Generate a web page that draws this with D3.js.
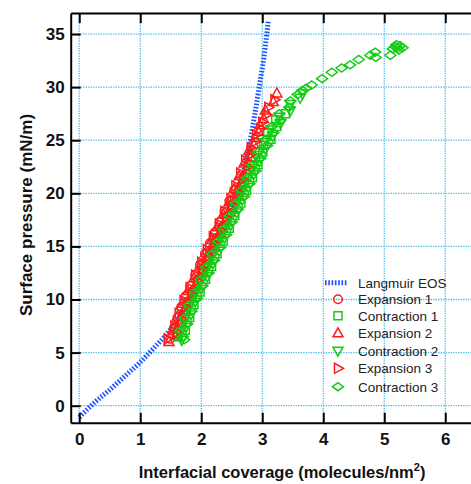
<!DOCTYPE html>
<html><head><meta charset="utf-8">
<script src="https://cdn.jsdelivr.net/npm/d3@7"></script>
<style>body{margin:0;background:#fff}svg{display:block}</style>
</head><body>
<svg id="c" width="471" height="484"></svg>
<script>
// ---- data ----
const xTicks = [0, 1, 2, 3, 4, 5, 6];
const yTicks = [0, 5, 10, 15, 20, 25, 30, 35];
const seriesNames = ["Expansion 1", "Contraction 1", "Expansion 2", "Contraction 2", "Expansion 3", "Contraction 3"];
const langmuirEOS = [[0,-1.1],[0.25,0.3],[0.5,1.5],[0.75,2.8],[1.0,4.1],[1.25,5.6],[1.5,7.2],[1.75,9.4],[2.0,12.0],[2.25,15.0],[2.5,18.5],[2.65,21.0],[2.8,24.9],[2.95,30.0],[3.05,33.8],[3.1,36.3]];
const expansion1 = [[1.49,6.3],[1.60,6.8],[1.55,7.3],[1.66,7.8],[1.61,8.3],[1.72,8.8],[1.67,9.3],[1.78,9.8],[1.74,10.3],[1.86,10.8],[1.82,11.3],[1.94,11.8],[1.90,12.3],[2.02,12.8],[1.98,13.3],[2.10,13.8],[2.06,14.3],[2.18,14.8],[2.14,15.3],[2.26,15.8],[2.22,16.3],[2.34,16.8],[2.30,17.3],[2.42,17.8],[2.38,18.3],[2.50,18.8],[2.46,19.3],[2.58,19.8],[2.54,20.3],[2.66,20.8]];
const contraction1 = [[1.62,6.5],[1.74,7.1],[1.69,7.7],[1.81,8.3],[1.76,8.9],[1.88,9.5],[1.85,10.1],[1.98,10.7],[1.94,11.3],[2.07,11.9],[2.04,12.5],[2.17,13.1],[2.13,13.7],[2.26,14.3],[2.23,14.9],[2.36,15.5],[2.33,16.1],[2.46,16.7],[2.42,17.3],[2.55,17.9],[2.52,18.5],[2.65,19.1],[2.62,19.7],[2.74,20.3],[2.71,20.9],[2.84,21.5],[2.81,22.1],[2.93,22.7],[2.89,23.3],[3.01,23.9],[3.02,24.5],[3.14,25.1],[3.09,25.7],[3.24,26.3],[3.22,26.9],[3.38,27.5]];
const expansion2 = [[1.47,6.0],[1.59,6.6],[1.54,7.2],[1.66,7.8],[1.61,8.4],[1.73,9.0],[1.69,9.6],[1.82,10.2],[1.78,10.8],[1.91,11.4],[1.88,12.0],[2.01,12.6],[1.98,13.2],[2.10,13.8],[2.07,14.4],[2.20,15.0],[2.17,15.6],[2.30,16.2],[2.26,16.8],[2.39,17.4],[2.36,18.0],[2.49,18.6],[2.46,19.2],[2.59,19.8],[2.54,20.4],[2.66,21.0],[2.62,21.6],[2.74,22.2],[2.70,22.8],[2.81,23.4],[2.78,24.0],[2.86,24.6],[2.88,25.2],[2.94,25.8],[2.96,26.4],[3.02,27.0],[3.05,27.8],[3.18,28.6],[3.24,29.4]];
const contraction2 = [[1.68,6.2],[1.64,6.8],[1.75,7.4],[1.71,8.0],[1.83,8.6],[1.78,9.2],[1.90,9.8],[1.87,10.4],[2.00,11.0],[1.97,11.6],[2.10,12.2],[2.06,12.8],[2.19,13.4],[2.16,14.0],[2.29,14.6],[2.26,15.2],[2.38,15.8],[2.35,16.4],[2.48,17.0],[2.45,17.6],[2.58,18.2],[2.54,18.8],[2.67,19.4],[2.64,20.0],[2.77,20.6],[2.74,21.2],[2.86,21.8],[2.83,22.4],[2.95,23.0],[2.91,23.6],[3.05,24.2],[3.03,24.8],[3.17,25.4],[3.14,26.0],[3.30,26.6],[3.28,27.2],[3.46,27.8],[3.46,28.4],[3.62,29.0],[3.66,29.4]];
const expansion3 = [[1.45,6.3],[1.60,6.9],[1.56,7.5],[1.68,8.1],[1.63,8.7],[1.75,9.3],[1.71,9.9],[1.84,10.5],[1.81,11.1],[1.94,11.7],[1.90,12.3],[2.03,12.9],[2.00,13.5],[2.13,14.1],[2.09,14.7],[2.22,15.3],[2.19,15.9],[2.32,16.5],[2.29,17.1],[2.41,17.7],[2.38,18.3],[2.51,18.9],[2.48,19.5],[2.61,20.1],[2.56,20.7],[2.68,21.3],[2.64,21.9],[2.76,22.5],[2.72,23.1],[2.83,23.7],[2.81,24.3],[2.89,24.9],[2.90,25.5],[2.97,26.1],[3.00,26.7],[3.07,27.4],[3.10,28.1],[3.20,28.8]];
const contraction3 = [[1.72,6.2],[1.70,6.5],[1.66,7.1],[1.77,7.7],[1.73,8.3],[1.84,8.9],[1.80,9.5],[1.93,10.1],[1.90,10.7],[2.02,11.3],[1.99,11.9],[2.12,12.5],[2.09,13.1],[2.21,13.7],[2.18,14.3],[2.31,14.9],[2.28,15.5],[2.41,16.1],[2.38,16.7],[2.50,17.3],[2.47,17.9],[2.60,18.5],[2.57,19.1],[2.70,19.7],[2.66,20.3],[2.79,20.9],[2.76,21.5],[2.89,22.1],[2.85,22.7],[2.97,23.3],[2.94,23.9],[3.08,24.5],[3.06,25.1],[3.18,25.7],[3.16,26.3],[3.30,26.9],[3.28,27.5],[3.44,28.1],[3.46,28.7],[3.58,29.3],[3.66,29.7],[3.72,29.9],[3.81,30.2],[3.98,30.8],[4.14,31.4],[4.30,31.8],[4.44,32.1],[4.58,32.6],[4.77,33.0],[4.85,33.3],[4.86,32.8],[5.10,33.0],[5.14,33.6],[5.18,33.8],[5.22,33.7],[5.26,33.9],[5.20,34.0],[5.30,33.7],[5.24,33.5]];
const seriesData = [expansion1, contraction1, expansion2, contraction2, expansion3, contraction3];

// ---- styles ----
const RED = "#ff1a1a", GREEN = "#14cc14", BLUE = "#1a4fff", GRID = "#46b8ea";
const seriesColors = [RED, GREEN, RED, GREEN, RED, GREEN];
const seriesShapes = ["circle", "square", "up", "down", "right", "diamond"];

const svg = d3.select("#c");
const x = d3.scaleLinear().domain([-0.14, 6.42]).range([70.7, 470.9]);
const y = d3.scaleLinear().domain([-1.6, 36.98]).range([422.7, 13]);

// grid
const g = svg.append("g");
g.selectAll("line.gx").data(xTicks).join("line")
  .attr("x1", d => x(d)).attr("x2", d => x(d)).attr("y1", 13).attr("y2", 422.7)
  .attr("stroke", GRID).attr("stroke-width", 1.3).attr("stroke-dasharray", "1.3,1.2");
g.selectAll("line.gy").data(yTicks).join("line")
  .attr("x1", 70.7).attr("x2", 471).attr("y1", d => y(d)).attr("y2", d => y(d))
  .attr("stroke", GRID).attr("stroke-width", 1.3).attr("stroke-dasharray", "1.3,1.2");

// Langmuir EOS line
const line = d3.line().x(d => x(d[0])).y(d => y(d[1])).curve(d3.curveMonotoneX);
svg.append("path").datum(langmuirEOS).attr("d", line)
  .attr("fill", "none").attr("stroke", BLUE).attr("stroke-width", 5)
  .attr("stroke-dasharray", "1.6,1.7");

function shapePath(s) {
  switch (s) {
    case "square": return "M-4,-4H4V4H-4Z";
    case "up": return "M0,-5.5L5,3.5L-5,3.5Z";
    case "down": return "M0,5.5L5,-3.5L-5,-3.5Z";
    case "right": return "M5.5,0L-3.5,5L-3.5,-5Z";
    case "diamond": return "M-5.5,0L0,-4L5.5,0L0,4Z";
  }
}
function drawMarker(sel, s, color) {
  if (s === "circle") {
    sel.append("circle").attr("r", 4.3).attr("fill", "none").attr("stroke", color).attr("stroke-width", 1.5);
  } else {
    sel.append("path").attr("d", shapePath(s)).attr("fill", "none").attr("stroke", color).attr("stroke-width", 1.5);
  }
}

seriesData.forEach((data, i) => {
  const gg = svg.append("g");
  gg.selectAll("g").data(data).join("g")
    .attr("transform", d => `translate(${x(d[0])},${y(d[1])})`)
    .each(function () { drawMarker(d3.select(this), seriesShapes[i], seriesColors[i]); });
});

// axes
const font = "'Liberation Sans', Arial, sans-serif";
const ax = svg.append("g").attr("transform", "translate(70.7,0)")
  .call(d3.axisLeft(y).tickValues(yTicks).tickFormat(d3.format("d")).tickSize(-10).tickSizeOuter(0).tickPadding(6));
const bx = svg.append("g").attr("transform", "translate(0,422.7)")
  .call(d3.axisBottom(x).tickValues(xTicks).tickFormat(d3.format("d")).tickSize(-10).tickSizeOuter(0).tickPadding(10));
const tx = svg.append("g").attr("transform", "translate(0,13)")
  .call(d3.axisTop(x).tickValues(xTicks).tickSize(-10).tickSizeOuter(0).tickFormat(""));
[ax, bx, tx].forEach(a => {
  a.select(".domain").attr("stroke", "#000").attr("stroke-width", 2);
  a.selectAll(".tick line").attr("stroke", "#000").attr("stroke-width", 2);
  a.selectAll(".tick text").attr("font-family", font).attr("font-weight", "bold")
    .attr("font-size", 17).attr("fill", "#111");
});

// titles
const xt = svg.append("text").attr("x", 282).attr("y", 478).attr("text-anchor", "middle")
  .attr("font-family", font).attr("font-weight", "bold").attr("font-size", 16.5).attr("fill", "#111");
xt.append("tspan").text("Interfacial coverage (molecules/nm");
xt.append("tspan").attr("font-size", 11).attr("dy", -7).text("2");
xt.append("tspan").attr("dy", 7).text(")");
svg.append("text").attr("transform", "translate(32,215) rotate(-90)").attr("text-anchor", "middle")
  .attr("font-family", font).attr("font-weight", "bold").attr("font-size", 17).attr("fill", "#111")
  .text("Surface pressure (mN/m)");

// legend
const legendY = [282.7, 299.3, 315.7, 333.3, 350.7, 368.3, 386.7];
const lg = svg.append("g");
lg.append("line").attr("x1", 325).attr("x2", 348).attr("y1", legendY[0]).attr("y2", legendY[0])
  .attr("stroke", BLUE).attr("stroke-width", 5).attr("stroke-dasharray", "1.6,1.7");
lg.append("text").attr("x", 358).attr("y", legendY[0]).attr("dy", "0.36em")
  .attr("font-family", font).attr("font-size", 13.5).attr("fill", "#222").text("Langmuir EOS");
seriesNames.forEach((n, i) => {
  const row = lg.append("g").attr("transform", `translate(338,${legendY[i + 1]})`);
  drawMarker(row, seriesShapes[i], seriesColors[i]);
  lg.append("text").attr("x", 358).attr("y", legendY[i + 1]).attr("dy", "0.36em")
    .attr("font-family", font).attr("font-size", 13.5).attr("fill", "#222").text(n);
});
</script>
</body></html>
